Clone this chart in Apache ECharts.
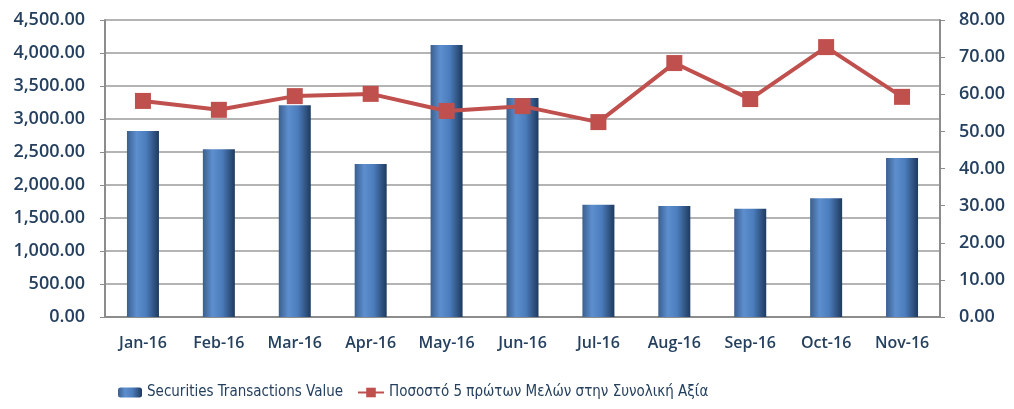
<!DOCTYPE html>
<html>
<head>
<meta charset="utf-8">
<script src="https://cdn.jsdelivr.net/npm/echarts@6/dist/echarts.min.js"></script>
<style>
    html, body { margin: 0; padding: 0; background: #fff; }
    #main { width: 1014px; height: 409px; }
</style>
</head>
<body>
<div id="main"></div>
<script>
var months = ['Jan-16', 'Feb-16', 'Mar-16', 'Apr-16', 'May-16', 'Jun-16', 'Jul-16', 'Aug-16', 'Sep-16', 'Oct-16', 'Nov-16'];
var transValue = [2820, 2540, 3210, 2320, 4120, 3320, 1700, 1680, 1640, 1800, 2410];
var top5Share = [58.2, 55.8, 59.5, 60.1, 55.5, 56.8, 52.5, 68.4, 58.7, 72.7, 59.3];
var barName = 'Securities Transactions Value';
var lineName = 'Ποσοστό 5 πρώτων Μελών στην Συνολική Αξία';

var textColor = '#25405f';
var labelFont = '"Open Sans", sans-serif';
var legendFont = '"DejaVu Sans Condensed", "Liberation Sans Narrow", "Roboto", sans-serif';

function fmt2(v) {
    return v.toLocaleString('en-US', {minimumFractionDigits: 2, maximumFractionDigits: 2});
}

var myChart = echarts.init(document.getElementById('main'));
var option = {
    animation: false,
    grid: {
        left: 105,
        right: 74,
        top: 20,
        bottom: 92
    },
    legend: [
        {
            left: 113,
            top: 380,
            itemWidth: 24,
            itemHeight: 10,
            textStyle: {color: textColor, fontSize: 15, fontFamily: legendFont},
            data: [barName]
        },
        {
            left: 352,
            top: 380,
            itemWidth: 26,
            itemHeight: 12,
            textStyle: {color: textColor, fontSize: 15, fontFamily: legendFont},
            data: [lineName]
        }
    ],
    xAxis: {
        type: 'category',
        data: months,
        axisLine: {lineStyle: {color: '#8c8c8c', width: 2}},
        axisTick: {show: false},
        axisLabel: {interval: 0, color: textColor, fontSize: 16, fontWeight: 600, fontFamily: labelFont, margin: 18}
    },
    yAxis: [
        {
            type: 'value',
            min: 0,
            max: 4500,
            interval: 500,
            axisLine: {show: true, lineStyle: {color: '#8c8c8c', width: 2}},
            axisTick: {show: true, length: 5, lineStyle: {color: '#8c8c8c'}},
            splitLine: {lineStyle: {color: '#b4b4b4', width: 2}},
            axisLabel: {
                color: textColor, fontSize: 18, fontWeight: 600, fontFamily: labelFont, margin: 20,
                formatter: fmt2
            }
        },
        {
            type: 'value',
            min: 0,
            max: 80,
            interval: 10,
            axisLine: {show: true, lineStyle: {color: '#8c8c8c', width: 2}},
            axisTick: {show: true, length: 5, lineStyle: {color: '#8c8c8c'}},
            splitLine: {show: false},
            axisLabel: {
                color: textColor, fontSize: 18, fontWeight: 600, fontFamily: labelFont, margin: 19,
                formatter: fmt2
            }
        }
    ],
    series: [
        {
            name: barName,
            type: 'bar',
            yAxisIndex: 0,
            barWidth: 32,
            data: transValue,
            itemStyle: {
                color: new echarts.graphic.LinearGradient(0, 0, 1, 0, [
                    {offset: 0, color: '#3a5f8f'},
                    {offset: 0.3, color: '#5d8fcf'},
                    {offset: 0.6, color: '#4b7cbb'},
                    {offset: 1, color: '#1f3a5e'}
                ])
            }
        },
        {
            name: lineName,
            type: 'line',
            yAxisIndex: 1,
            data: top5Share,
            symbol: 'rect',
            symbolSize: 16,
            lineStyle: {color: '#c0504d', width: 4},
            itemStyle: {color: '#c0504d'}
        }
    ]
};
myChart.setOption(option);
</script>
</body>
</html>
